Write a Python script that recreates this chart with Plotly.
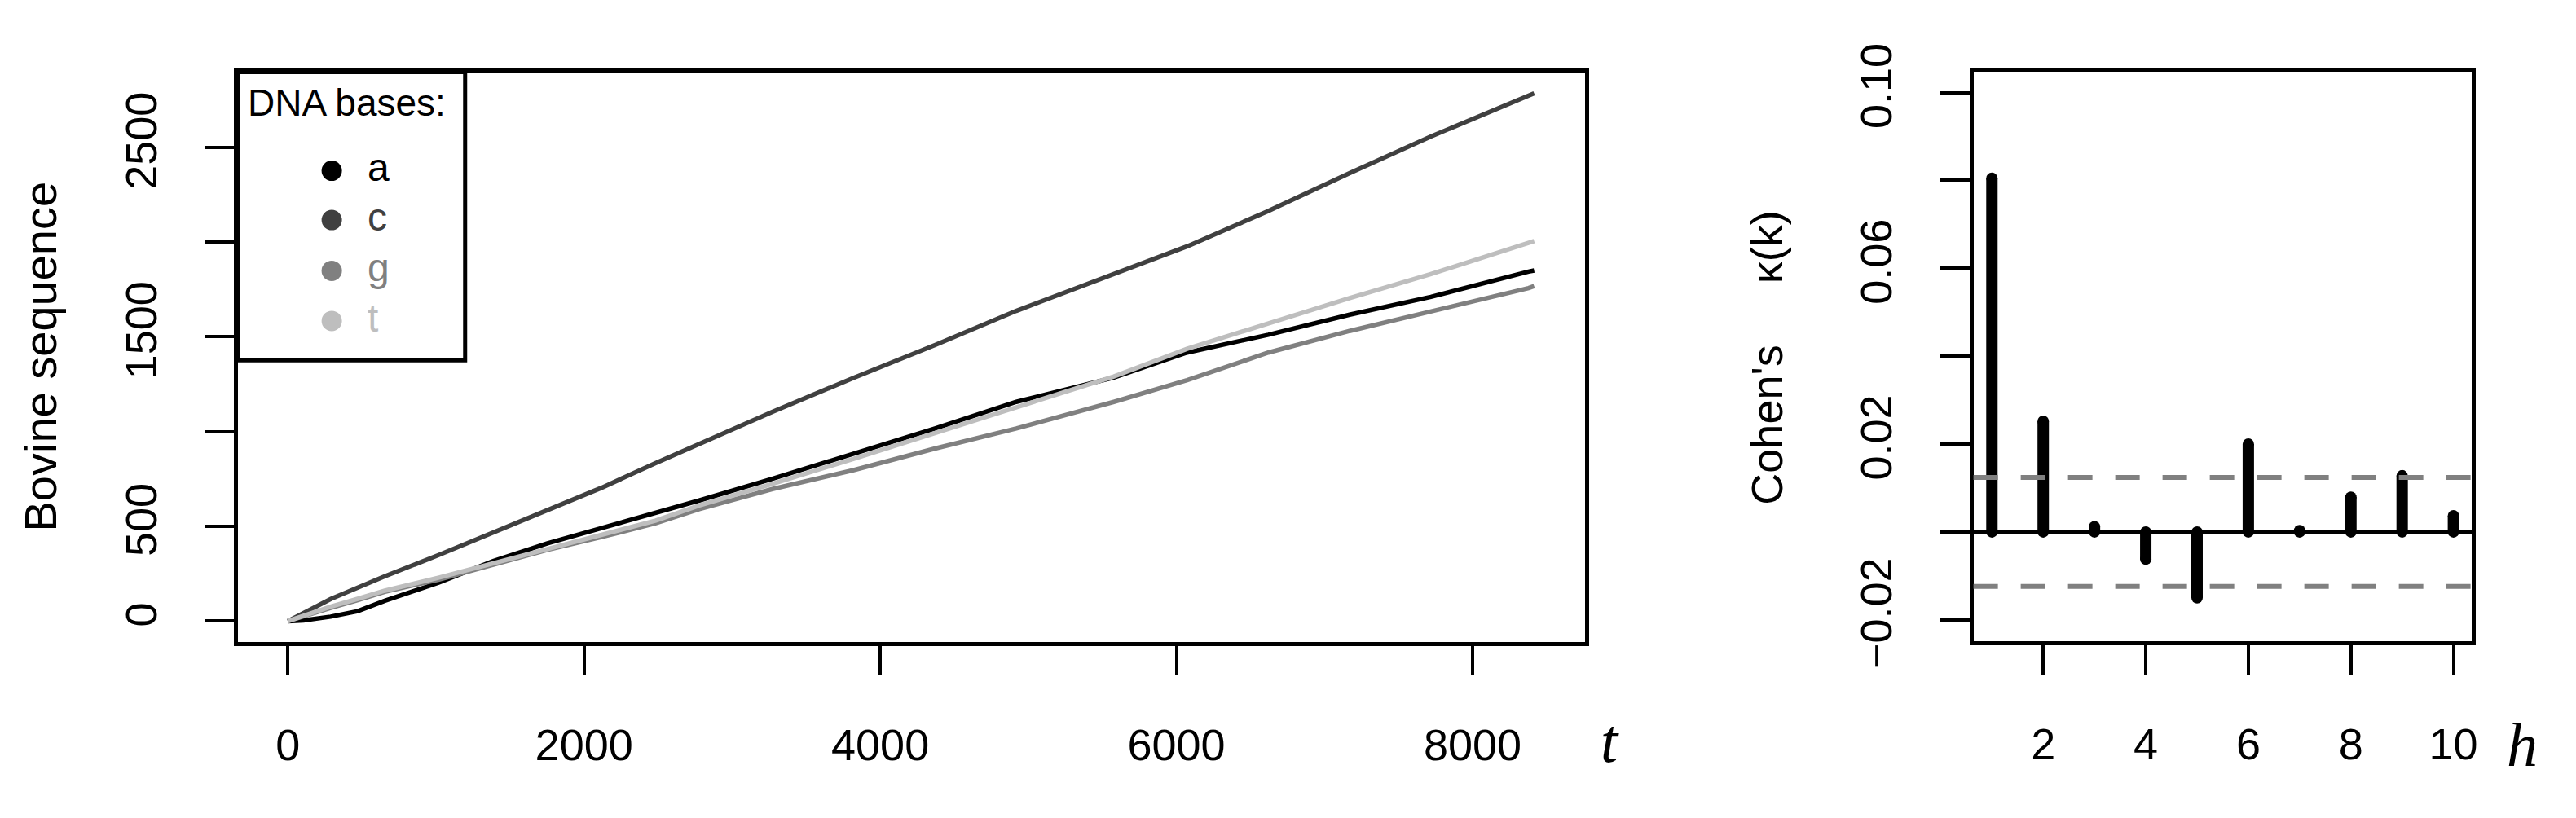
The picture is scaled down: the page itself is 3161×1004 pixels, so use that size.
import plotly.graph_objects as go

# ---------------- data ----------------
t_index = [0, 106, 289, 472, 655, 1021, 1387, 1753, 2119, 2485, 2778, 3272, 3821,
           4370, 4919, 5578, 6072, 6621, 7170, 7719, 8378, 8416]
base_a = [0, 4, 24, 53, 108, 204, 317, 411, 491, 571, 637, 751, 884,
          1017, 1157, 1285, 1417, 1511, 1617, 1711, 1844, 1850]
base_c = [0, 44, 117, 177, 237, 350, 468, 585, 704, 835, 937, 1104, 1284,
          1457, 1637, 1831, 1977, 2164, 2364, 2557, 2771, 2785]
base_g = [0, 27, 70, 111, 155, 220, 297, 377, 444, 517, 591, 697, 797,
          911, 1017, 1157, 1271, 1417, 1531, 1631, 1757, 1768]
base_t = [0, 30, 77, 118, 161, 230, 304, 384, 457, 531, 611, 724, 857,
          991, 1124, 1291, 1437, 1571, 1704, 1831, 1991, 2005]

base_names = ["a", "c", "g", "t"]
base_colors = ["#000000", "#404040", "#808080", "#BEBEBE"]

lags = [1, 2, 3, 4, 5, 6, 7, 8, 9, 10]
kappa = [0.0805, 0.0252, 0.0012, -0.0062, -0.0150, 0.0200, 0.0003, 0.0079, 0.0128, 0.0037]
kappa_band = 0.0124

left_xticks = [0, 2000, 4000, 6000, 8000]
left_yticks = [0, 500, 1000, 1500, 2000, 2500]
left_ytext = ["0", "500", "", "1500", "", "2500"]
right_xticks = [2, 4, 6, 8, 10]
right_yticks = [-0.02, 0.0, 0.02, 0.04, 0.06, 0.08, 0.10]
right_ytext = ["\u22120.02", "", "0.02", "", "0.06", "", "0.10"]

# ---------------- geometry helpers ----------------
# the page body keeps its default 8px margin, so the figure is placed at (8, 8)
OFF = 8
W, H = 3161 - OFF, 1004 - OFF
def px(x):
    return (x - OFF) / W
def py(y):
    return 1 - (y - OFF) / H

SANS = "Liberation Sans, Arial, Helvetica, sans-serif"
SERIF = "Liberation Serif, Times New Roman, serif"
TICKFONT = dict(family=SANS, size=54, color="black")

fig = go.Figure()

series = [base_a, base_c, base_g, base_t]
for name, col, vals in zip(base_names, base_colors, series):
    fig.add_trace(go.Scatter(x=t_index, y=vals, mode="lines", name=name,
                             line=dict(color=col, width=5.5),
                             xaxis="x", yaxis="y", showlegend=False,
                             hoverinfo="skip"))

# right panel: vertical "h" bars with round ends
bx, by = [], []
for h, k in zip(lags, kappa):
    bx += [h, h, None]
    by += [0, k, None]
fig.add_trace(go.Scatter(x=bx, y=by, mode="lines+markers",
                         line=dict(color="black", width=14),
                         marker=dict(color="black", size=14, line=dict(width=0)),
                         xaxis="x2", yaxis="y2", showlegend=False, hoverinfo="skip"))

axis_common = dict(showline=True, mirror=True, linecolor="black", linewidth=5,
                   ticks="outside", ticklen=36, tickwidth=4, tickcolor="black",
                   showgrid=False, zeroline=False, tickfont=TICKFONT)

fig.update_layout(
    width=W, height=H,
    margin=dict(l=0, r=0, t=0, b=0),
    paper_bgcolor="white", plot_bgcolor="white",
    xaxis=dict(domain=[px(293), px(1949)], range=[-335, 8758],
               tickmode="array", tickvals=left_xticks,
               ticktext=[str(v) for v in left_xticks],
               ticklabelstandoff=40, anchor="y", **axis_common),
    yaxis=dict(domain=[py(808), py(57)], range=[-108, 2896],
               tickmode="array", tickvals=left_yticks, ticktext=left_ytext,
               tickangle=-90, ticklabelstandoff=38, anchor="x", **axis_common),
    xaxis2=dict(domain=[px(2427), px(3040)], range=[0.64, 10.36],
                tickmode="array", tickvals=right_xticks,
                ticktext=[str(v) for v in right_xticks],
                ticklabelstandoff=40, anchor="y2", **axis_common),
    yaxis2=dict(domain=[py(807), py(56)], range=[-0.0248, 0.1048],
                tickmode="array", tickvals=right_yticks, ticktext=right_ytext,
                tickangle=-90, ticklabelstandoff=38, anchor="x2", **axis_common),
)

shapes = []
# zero line and dashed bands on right panel
shapes.append(dict(type="line", xref="x2 domain", yref="y2", x0=0, x1=1, y0=0, y1=0,
                   line=dict(color="black", width=5), layer="below"))
for yb in (kappa_band, -kappa_band):
    shapes.append(dict(type="line", xref="x2 domain", yref="y2", x0=0, x1=1,
                       y0=yb, y1=yb, line=dict(color="#808080", width=6, dash="30px,28px"),
                       layer="above"))
# legend box
shapes.append(dict(type="rect", xref="paper", yref="paper",
                   x0=px(293), x1=px(572), y0=py(437), y1=py(57),
                   line=dict(color="black", width=5), fillcolor="white", layer="above"))
legend_y = [187, 252, 319, 385]
for col, ly in zip(base_colors, legend_y):
    shapes.append(dict(type="circle", xref="paper", yref="paper",
                       xsizemode="pixel", ysizemode="pixel",
                       xanchor=px(408), yanchor=py(ly),
                       x0=-12.5, x1=12.5, y0=-12.5, y1=12.5,
                       fillcolor=col, line=dict(width=0), layer="above"))
fig.update_layout(shapes=shapes)

annotations = []
annotations.append(dict(text="DNA bases:", xref="paper", yref="paper",
                        x=px(303), y=py(97), xanchor="left", yanchor="middle",
                        showarrow=False, font=dict(family=SANS, size=46, color="black")))
for name, col, ly in zip(base_names, base_colors, legend_y):
    annotations.append(dict(text=name, xref="paper", yref="paper",
                            x=px(450), y=py(ly - 4), xanchor="left", yanchor="middle",
                            showarrow=False, font=dict(family=SANS, size=48, color=col)))
annotations.append(dict(text="Bovine sequence", xref="paper", yref="paper",
                        x=px(50), y=py(432), textangle=-90, showarrow=False,
                        xanchor="center", yanchor="middle",
                        font=dict(family=SANS, size=56, color="black")))
annotations.append(dict(text="Cohen's" + "\u00a0" * 5 + "\u03ba(k)", xref="paper", yref="paper",
                        x=px(2173), y=py(434), textangle=-90, showarrow=False,
                        xanchor="center", yanchor="middle",
                        font=dict(family=SANS, size=54, color="black")))
annotations.append(dict(text="<i>t</i>", xref="paper", yref="paper",
                        x=px(1980), y=py(938), showarrow=False,
                        xanchor="center", yanchor="middle",
                        font=dict(family=SERIF, size=76, color="black")))
annotations.append(dict(text="<i>h</i>", xref="paper", yref="paper",
                        x=px(3102), y=py(944), showarrow=False,
                        xanchor="center", yanchor="middle",
                        font=dict(family=SERIF, size=76, color="black")))
fig.update_layout(annotations=annotations)

fig.write_html("out.html")
